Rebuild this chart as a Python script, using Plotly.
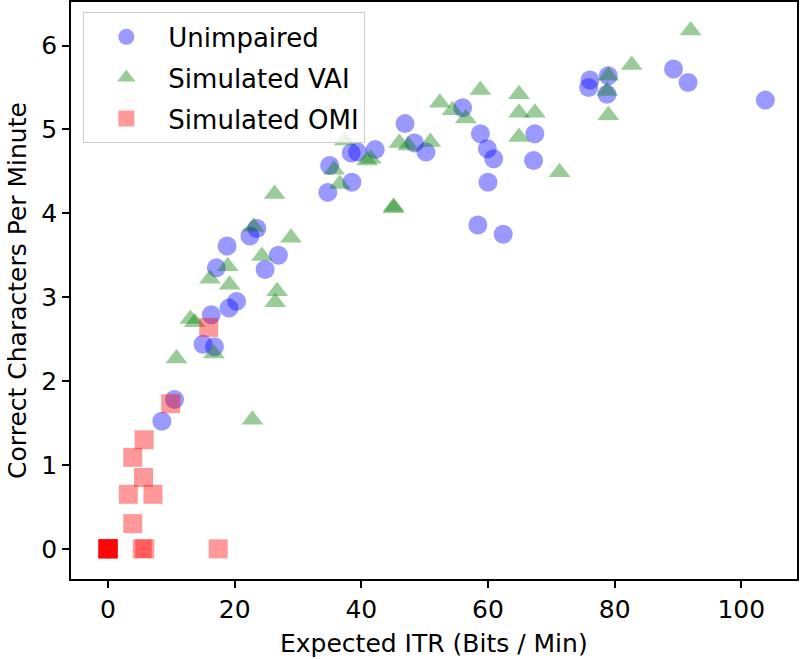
import plotly.graph_objects as go

# ---- data ----
unimpaired_x = [8.5, 10.5, 15.0, 16.8, 16.3, 19.1, 20.3, 17.1, 24.8, 26.9, 18.8, 22.4, 23.5,
                34.7, 35.0, 38.5, 38.4, 39.4, 42.2, 46.9, 48.4, 50.2, 56.0, 58.8, 59.9, 60.9,
                60.0, 58.4, 62.4, 67.4, 67.2, 76.1, 75.9, 79.0, 78.8, 89.3, 91.6, 103.8]
unimpaired_y = [1.52, 1.78, 2.44, 2.41, 2.79, 2.87, 2.95, 3.35, 3.33, 3.50, 3.61, 3.73, 3.82,
                4.25, 4.57, 4.37, 4.72, 4.73, 4.76, 5.07, 4.84, 4.73, 5.26, 4.95, 4.77, 4.65,
                4.37, 3.86, 3.75, 4.95, 4.63, 5.59, 5.50, 5.64, 5.42, 5.72, 5.56, 5.35]

vai_x = [13.0, 13.7, 10.8, 16.7, 22.8, 26.3, 23.0, 28.9, 24.3, 18.9, 16.1, 19.2, 26.7, 26.4,
         37.4, 35.7, 36.6, 40.9, 41.5, 45.1, 45.1, 46.0, 47.4, 50.9, 52.4, 54.4, 56.5, 58.8,
         64.9, 64.9, 67.4, 64.9, 71.3, 79.0, 78.8, 79.0, 82.7, 92.0]
vai_y = [2.74, 2.70, 2.27, 2.33, 1.54, 4.23, 3.84, 3.71, 3.49, 3.37, 3.22, 3.15, 3.07, 2.94,
         4.87, 4.52, 4.35, 4.63, 4.65, 4.08, 4.06, 4.84, 4.81, 4.85, 5.32, 5.23, 5.13, 5.47,
         5.42, 5.20, 5.20, 4.91, 4.49, 5.64, 5.46, 5.17, 5.77, 6.18]

omi_x = [15.9, 9.9, 5.7, 3.9, 5.6, 3.2, 7.1, 3.9, 0.0, 0.0, 0.0, 0.0, 0.0, 0.0, 0.0, 5.4, 5.8, 17.4]
omi_y = [2.64, 1.73, 1.30, 1.09, 0.85, 0.65, 0.65, 0.30, 0.0, 0.0, 0.0, 0.0, 0.0, 0.0, 0.0, 0.0, 0.0, 0.0]

x_ticks = [0, 20, 40, 60, 80, 100]
y_ticks = [0, 1, 2, 3, 4, 5, 6]

x_title = "Expected ITR (Bits / Min)"
y_title = "Correct Characters Per Minute"

FONT = "DejaVu Sans"

fig = go.Figure()
fig.add_trace(go.Scatter(x=unimpaired_x, y=unimpaired_y, mode="markers", name="Unimpaired",
                         legendgroup="a",
                         marker=dict(symbol="circle", size=19, color="blue", opacity=0.4,
                                     line=dict(width=0))))
fig.add_trace(go.Scatter(x=vai_x, y=vai_y, mode="markers", name="Simulated VAI",
                         legendgroup="b",
                         marker=dict(symbol="triangle-up", size=19, color="green", opacity=0.4,
                                     line=dict(width=0))))
fig.add_trace(go.Scatter(x=omi_x, y=omi_y, mode="markers", name="Simulated OMI",
                         legendgroup="c",
                         marker=dict(symbol="square", size=19, color="red", opacity=0.4,
                                     line=dict(width=0))))

axis_common = dict(showline=True, linecolor="black", linewidth=1.5, mirror=True,
                   ticks="outside", ticklen=7, tickwidth=1.5, tickcolor="black",
                   showgrid=False, zeroline=False, automargin=False,
                   tickfont=dict(size=25, color="black", family=FONT))

fig.update_layout(
    width=800, height=659, autosize=False,
    margin=dict(l=71, r=3, t=2, b=80),
    paper_bgcolor="white", plot_bgcolor="white",
    font=dict(family=FONT, color="black", size=25),
    xaxis=dict(range=[-5.85, 108.8], tickvals=x_ticks, **axis_common),
    yaxis=dict(range=[-0.36, 6.52], tickvals=y_ticks,
               title=dict(text=y_title, font=dict(size=25), standoff=8),
               **axis_common),
    legend=dict(x=0.017, y=0.982, xanchor="left", yanchor="top",
                bgcolor="rgba(255,255,255,0.8)", bordercolor="#cccccc", borderwidth=1,
                font=dict(size=26, family=FONT, color="black"),
                traceorder="grouped", tracegroupgap=4, itemwidth=74),
    showlegend=True,
    annotations=[dict(text=x_title, xref="paper", yref="paper", x=0.5, y=-0.112,
                      xanchor="center", yanchor="middle", showarrow=False,
                      font=dict(size=25, family=FONT, color="black"))],
)

fig.write_html("out.html", config={"displayModeBar": False},
               post_script="document.body.style.margin='0px';document.body.style.overflow='hidden';")
